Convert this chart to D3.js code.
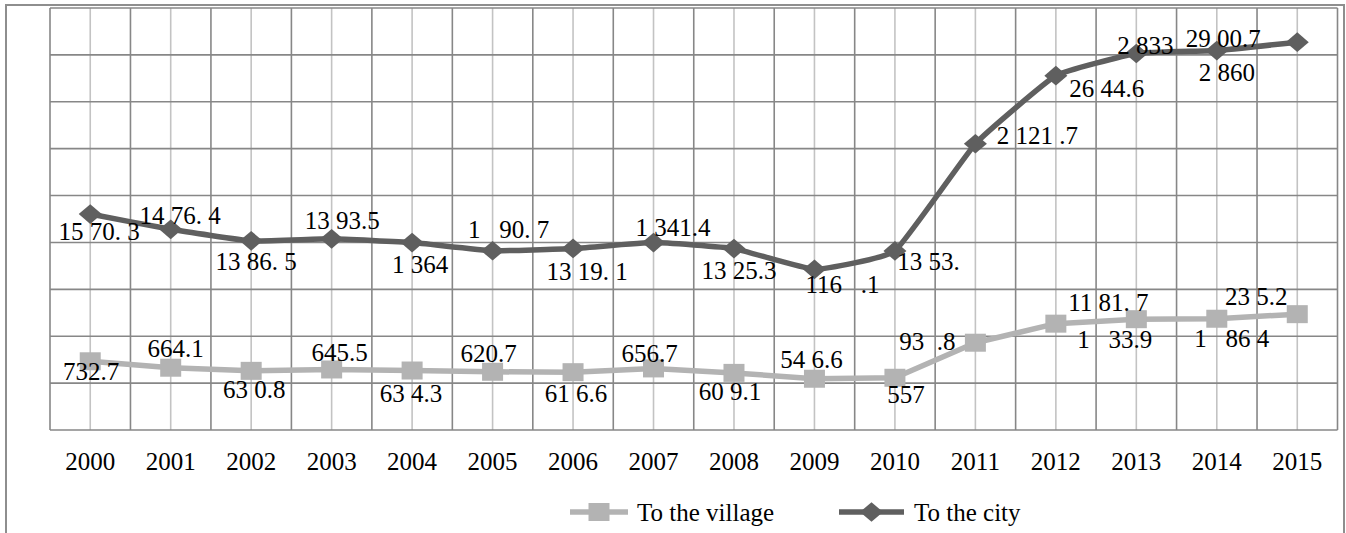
<!DOCTYPE html>
<html>
<head>
<meta charset="utf-8">
<script src="https://cdn.jsdelivr.net/npm/d3@7"></script>
<style>
  html, body { margin: 0; padding: 0; background: #ffffff; }
  svg { display: block; }
  text { font-family: "Liberation Serif", "Times New Roman", serif; fill: #000; }
</style>
</head>
<body>
<svg id="chart" width="1346" height="533"></svg>
<script>
// ---------------- data ----------------
const years = ["2000","2001","2002","2003","2004","2005","2006","2007","2008","2009","2010","2011","2012","2013","2014","2015"];
const seriesNames = ["To the village", "To the city"];
const village = [732.7, 664.1, 630.8, 645.5, 634.3, 620.7, 616.6, 656.7, 609.1, 546.6, 557, 930.8, 1133.9, 1181.7, 1186.4, 1235.2];
const city    = [1570.3, 1476.4, 1386.5, 1393.5, 1364, 1290.7, 1319.1, 1341.4, 1325.3, 1167.1, 1353, 2121.7, 2644.6, 2833, 2860, 2900.7];
// data label texts as printed in the picture
const villageLabels = ["732.7","664.1","63 0.8","645.5","63 4.3","620.7","61 6.6","656.7","60 9.1","54 6.6","557","93  .8","1   33.9","11 81. 7","1   86 4","23 5.2"];
const cityLabels    = ["15 70. 3","14 76. 4","13 86. 5","13 93.5","1 364","1   90. 7","13 19. 1","1 341.4","13 25.3","116   .1","13 53.","2 121 .7","26 44.6","2 833","2 860","29 00.7"];
const yTicks = [0, 500, 1000, 1500, 2000, 2500, 3000, 3500, 4000, 4500];

// ---------------- layout (label offsets relative to their point) ----------------
const villageLabelDx = [1, 5, 3, 8, -1, -4, 3, -4, -4, -3, 11, -48, 59, -28, 15, -41];
const villageLabelDy = [19, -11, 27.5, -8, 31, -10, 29.5, -6, 27, -10.5, 25, 7.5, 24.5, -8.5, 28, -9];
const cityLabelDx = [9, 9.5, 5, 10.7, 8, 16, 14, 19.5, 5, 28, 33.5, 62, 51, 9, 10, -74];
const cityLabelDy = [26, -5, 29, -10, 30, -13, 32, -7, 30, 24, 19, 0.5, 21, 0.5, 30.5, 4.5];

const FONT = '"Liberation Serif", "Times New Roman", serif';
const keepSpaces = s => s.replace(/ /g, "\u00A0");

// ---------------- chart ----------------
const svg = d3.select("#chart");
const W = 1346, H = 533;
const plot = { left: 50, right: 1337.5, top: 8, bottom: 430 };

const x = d3.scaleBand().domain(years).range([plot.left, plot.right]).padding(0);
const y = d3.scaleLinear().domain([0, 4500]).range([plot.bottom, plot.top]);
const cx = d => x(d) + x.bandwidth() / 2;

const stackedCity = city.map((c, i) => c + village[i]);

// outer frame
const frame = svg.append("g").attr("fill", "none").attr("stroke", "#8e8e8e").attr("stroke-width", 2);
frame.append("path").attr("d", `M6,${H} L6,5 L1344,5 L1344,${H}`);

// gridlines
const grid = svg.append("g");
grid.selectAll("line.vc").data(years).join("line")
  .attr("x1", d => cx(d)).attr("x2", d => cx(d))
  .attr("y1", plot.top).attr("y2", plot.bottom)
  .attr("stroke", "#c3c3c3").attr("stroke-width", 1.6);
grid.selectAll("line.vb").data(years.concat(["_end"])).join("line")
  .attr("x1", (d, i) => plot.left + i * x.bandwidth()).attr("x2", (d, i) => plot.left + i * x.bandwidth())
  .attr("y1", plot.top).attr("y2", plot.bottom)
  .attr("stroke", "#878787").attr("stroke-width", 1.6);
grid.selectAll("line.h").data(yTicks).join("line")
  .attr("x1", plot.left).attr("x2", plot.right)
  .attr("y1", d => y(d)).attr("y2", d => y(d))
  .attr("stroke", "#878787").attr("stroke-width", 1.6);

// x axis labels
const xAxis = d3.axisBottom(x).tickSize(0).tickPadding(0);
const gx = svg.append("g").attr("transform", `translate(0,${plot.bottom})`).call(xAxis);
gx.attr("font-family", FONT).attr("font-size", 25);
gx.select(".domain").remove();
gx.selectAll("text")
  .attr("y", 40).attr("dy", null)
  .attr("fill", "#000");

// custom wide diamond symbol
const wideDiamond = {
  draw(ctx, size) {
    const r = Math.sqrt(size / 2);
    ctx.moveTo(0, -r * 0.9);
    ctx.lineTo(r * 1.05, 0);
    ctx.lineTo(0, r * 0.9);
    ctx.lineTo(-r * 1.05, 0);
    ctx.closePath();
  }
};

const villageColor = "#b3b3b3";
const cityColor = "#5f5f5f";

// lines
const lineVillage = d3.line().x((d, i) => cx(years[i])).y(d => y(d)).curve(d3.curveLinear);
const lineCity = d3.line().x((d, i) => cx(years[i])).y(d => y(d)).curve(d3.curveCardinal.tension(0.65));

svg.append("path").datum(village).attr("d", lineVillage)
  .attr("fill", "none").attr("stroke", villageColor).attr("stroke-width", 5.5).attr("stroke-linejoin", "round");
svg.append("path").datum(stackedCity).attr("d", lineCity)
  .attr("fill", "none").attr("stroke", cityColor).attr("stroke-width", 5.5).attr("stroke-linejoin", "round");

// markers
svg.append("g").selectAll("rect").data(village).join("rect")
  .attr("x", (d, i) => cx(years[i]) - 10.5).attr("y", d => y(d) - 9)
  .attr("width", 21).attr("height", 18)
  .attr("fill", villageColor);
svg.append("g").selectAll("path").data(stackedCity).join("path")
  .attr("d", d3.symbol().type(wideDiamond).size(240))
  .attr("transform", (d, i) => `translate(${cx(years[i])},${y(d)})`)
  .attr("fill", cityColor);

// data labels
const labels = svg.append("g").attr("font-family", FONT).attr("font-size", 25).attr("text-anchor", "middle");
labels.append("g").selectAll("text").data(village).join("text")
  .attr("x", (d, i) => cx(years[i]) + villageLabelDx[i])
  .attr("y", (d, i) => y(d) + villageLabelDy[i])
  .text((d, i) => keepSpaces(villageLabels[i]));
labels.append("g").selectAll("text").data(stackedCity).join("text")
  .attr("x", (d, i) => cx(years[i]) + cityLabelDx[i])
  .attr("y", (d, i) => y(d) + cityLabelDy[i])
  .text((d, i) => keepSpaces(cityLabels[i]));

// legend
const legend = svg.append("g").attr("font-family", FONT).attr("font-size", 25);
const legY = 512;
// village
legend.append("line").attr("x1", 570).attr("x2", 628).attr("y1", legY).attr("y2", legY)
  .attr("stroke", villageColor).attr("stroke-width", 5.5);
legend.append("rect").attr("x", 599 - 10.5).attr("y", legY - 9).attr("width", 21).attr("height", 18).attr("fill", villageColor);
legend.append("text").attr("x", 637).attr("y", 521).text(seriesNames[0]);
// city
legend.append("line").attr("x1", 839).attr("x2", 904).attr("y1", legY).attr("y2", legY)
  .attr("stroke", cityColor).attr("stroke-width", 5.5);
legend.append("path").attr("d", d3.symbol().type(wideDiamond).size(240))
  .attr("transform", `translate(871.5,${legY})`).attr("fill", cityColor);
legend.append("text").attr("x", 914).attr("y", 521).text(seriesNames[1]);
</script>
</body>
</html>
